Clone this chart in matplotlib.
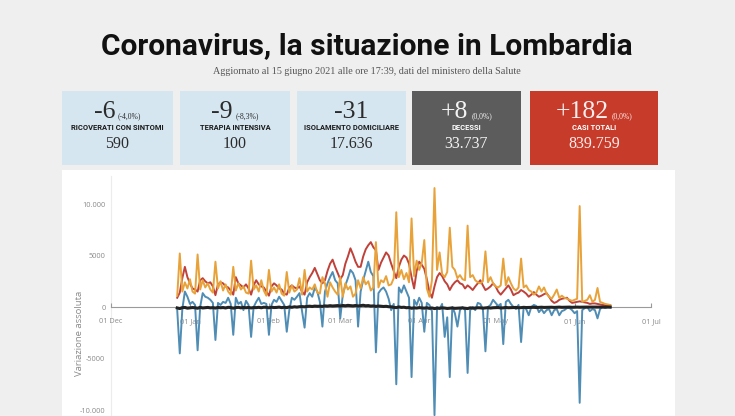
import numpy as np
import matplotlib
matplotlib.use("Agg")
from matplotlib import pyplot as plt
from matplotlib import patches

# daily series, 27 Dec 2020 -> 15 Jun 2021 (one row = one week, Sun..Sat)
start, end = '2020-12-27', '2021-06-16'

orange = [1100, 5200, 1500, 2400, 1800, 2700, 1500,
          1300, 5100, 1700, 2600, 1900, 2300, 1700,
          1400, 4400, 1800, 2500, 1600, 2200, 1500,
          1200, 3900, 1600, 2300, 1700, 2000, 1400,
          1300, 4500, 1700, 2100, 1500, 2600, 1600,
          1100, 3600, 1500, 1900, 1400, 2200, 1300,
          1100, 3400, 1400, 2100, 1500, 1700, 2800,
          1200, 3600, 1500, 1900, 1700, 2200, 1400,
          1300, 2900, 2300, 1000, 2400, 1900, 1500,
          1200, 2900, 1000, 2300, 1700, 2000, 1000,
          1300, 2600, 1800, 2900, 2200, 2500, 1600,
          1900, 6300, 1900, 2600, 2400, 3000, 2100,
          2200, 2800, 9200, 2900, 3600, 2700, 3300,
          2400, 8600, 3000, 4500, 3600, 4300, 6500,
          1800, 1000, 2600, 11550, 3600, 5300, 3200,
          2900, 3400, 7700, 3900, 3600, 2800, 3100,
          2700, 2600, 7900, 2900, 3100, 2600, 2400,
          2300, 2500, 5400, 2400, 2900, 2300, 2000,
          1900, 2100, 4700, 2100, 2900, 2300, 1800,
          1600, 1900, 4700, 1900, 2100, 1650, 1500,
          1200, 1400, 2000, 1500, 1900, 1300, 1000,
          800, 1200, 1700, 900, 1100, 900, 800,
          700, 600, 700, 800, 9800, 500, 600,
          700, 1150, 500, 700, 1850, 500, 400,
          300, 250, 200]

red = [900, 1400, 2800, 3900, 2900, 2300, 1800,
       1700, 1500, 2600, 2800, 2500, 2300, 2400,
       2000, 1150, 2200, 2400, 2300, 2000, 1900,
       1600, 1200, 2900, 2300, 2100, 1900, 2200,
       1800, 1200, 2100, 2600, 2200, 2000, 1900,
       1500, 1100, 2000, 2300, 2100, 1800, 1700,
       1300, 1200, 1900, 2100, 1900, 1800, 2000,
       1500, 1200, 2400, 2900, 3300, 3800, 3200,
       2600, 2300, 2600, 3500, 4200, 4600, 3900,
       3300, 2700, 3100, 4200, 4900, 5700, 5100,
       4400, 3900, 3900, 4900, 5600, 6000, 6300,
       5800, 5500, 3600, 4300, 4800, 5300, 5000,
       4200, 3500, 2800, 3900, 4600, 5000, 4800,
       4200, 2900, 1800, 3500, 4400, 4100, 3700,
       2700, 1500, 900, 2000, 2900, 3300, 3000,
       2500, 2200, 1650, 2100, 2400, 2600, 2300,
       2200, 1800, 2100, 1900, 1650, 2000, 2300,
       2600, 2100, 1650, 1800, 2000, 2300, 2000,
       1500, 1200, 1500, 1800, 2100, 1700, 1150,
       1300, 1400, 1650, 1500, 1300, 1000, 1200,
       1450, 1200, 1000, 1100, 1250, 1350, 1000,
       600, 400, 500, 700, 800, 850, 900,
       600, 400, 450, 500, 550, 500, 450,
       400, 300, 350, 350, 300, 250, 200,
       200, 150, 180]

blue = [-300, -4500, -200, 1500, 1000, 300, 500,
        200, -4200, 0, 1350, 1000, 900, 700,
        400, -3200, 400, 200, 500, 400, 900,
        300, -2700, 900, 300, 500, -300, 600,
        200, -2900, 0, 500, 900, 300, 400,
        300, -2700, 200, 700, 500, 1000, 600,
        200, -2400, -300, 900, 700, 1000, 1350,
        -400, -2000, 900, 1350, 1000, 1850, 1500,
        500, -1900, 1500, 2300, 2900, 3400, 2600,
        2300, -1100, 1200, 2100, 2800, 3600, 3300,
        2600, -1900, 1500, 2600, 3500, 4400, 3400,
        3000, -4400, 1350, 1700, 1900, 1500, 800,
        -300, 300, -7500, 1900, 1400, 2100, 1500,
        900, -6800, 700, 200, 900, 400, -2400,
        400, 200, -400, -10500, 0, -200, 300,
        -2900, -1000, -6800, 0, -600, -1900, -300,
        0, -300, -6400, -300, 0, -300, 400,
        300, -200, -4300, 0, 200, 700, 400,
        100, 300, -3600, 500, 700, 300, 0,
        -200, 200, -3400, 0, -200, -800, 0,
        200, 100, -500, -200, -600, -300, -200,
        -800, -300, -200, -800, -400, -300, -100,
        -100, -300, -600, -400, -9300, -300, -100,
        0, -400, -200, -300, -1100, -200, 0,
        -100, 0, -50]

black = [-90, -150, -60, -40, -110, -80, -50,
         -70, -120, -30, -90, -60, -40, -80,
         -60, -100, -40, -70, -50, -90, -30,
         -50, -110, -60, -30, -80, -40, -70,
         -40, -90, -50, -60, -30, -70, -20,
         -30, -80, -20, -50, -40, -10, -60,
         -20, -60, 10, -30, 20, -10, 30,
         40, 20, 60, 80, 50, 90, 70,
         80, 60, 110, 90, 130, 100, 120,
         140, 90, 150, 120, 160, 130, 110,
         150, 100, 130, 170, 120, 140, 90,
         110, 60, 100, 80, 50, 70, 30,
         20, -30, -60, 10, -40, -20, -70,
         -50, -120, -80, -100, -60, -90, -110,
         -70, -130, -90, -150, -110, -120, -80,
         -100, -140, -120, -90, -130, -110, -100,
         -90, -120, -150, -80, -110, -100, -70,
         -80, -110, -90, -60, -100, -70, -60,
         -50, -90, -80, -40, -70, -60, -50,
         -40, -70, -60, -30, -50, -40, -30,
         -30, -50, -40, -20, -40, -30, -20,
         -20, -40, -30, -10, -30, -20, -20,
         -10, -30, -20, -10, -20, -10, -10,
         -10, -20, -10, 0, -10, -10, 0,
         -5, -10, -5]

month_ticks = ['2020-12-01', '2021-01-01', '2021-02-01', '2021-03-01',
               '2021-04-01', '2021-05-01', '2021-06-01', '2021-07-01']
month_labels = ['01 Dec', '01 Jan', '01 Feb', '01 Mar', '01 Apr', '01 May', '01 Jun', '01 Jul']
y_ticks = [-10000, -5000, 0, 5000, 10000]
y_labels = ['-10.000', '-5000', '0', '5000', '10.000']

title = 'Coronavirus, la situazione in Lombardia'
subtitle = 'Aggiornato al 15 giugno 2021 alle ore 17:39, dati del ministero della Salute'

card_delta = ['-6', '-9', '-31', '+8', '+182']
card_pct = ['(-4,0%)', '(-8,3%)', '', '(0,0%)', '(0,0%)']
card_label = ['RICOVERATI CON SINTOMI', 'TERAPIA INTENSIVA', 'ISOLAMENTO DOMICILIARE',
              'DECESSI', 'CASI TOTALI']
card_total = ['590', '100', '17.636', '33.737', '839.759']

########################################################

W, H = 735, 416


def fx(px):
    return px / W


def fy(py):
    return 1 - py / H


SANS_N = ['Roboto', 'DejaVu Sans']
SERIF = ['Liberation Serif', 'DejaVu Serif']

fig = plt.figure(figsize=(W / 100, H / 100), dpi=100)
fig.patch.set_facecolor('#efefef')

fig.text(fx(367), fy(46), title, ha='center', va='center', fontsize=21.5,
         fontweight='bold', family=SANS_N, color='#111111')
fig.text(fx(367), fy(72), subtitle, ha='center', va='center', fontsize=7.3,
         family=SERIF, color='#555555')

# white panel behind the chart
fig.patches.append(patches.Rectangle((fx(62), 0), fx(675) - fx(62), fy(170),
                                     transform=fig.transFigure, facecolor='white',
                                     edgecolor='none', zorder=-2))
# faint vertical guide at the start of the time axis
fig.lines.append(plt.Line2D([fx(111), fx(111)], [0, fy(176)], transform=fig.transFigure,
                            color='#ececec', lw=0.8, zorder=-1))

# cards
lefts = [62, 180, 297, 412, 530]
rights = [173, 290, 406, 521, 658]
faces = ['#d5e6f0', '#d5e6f0', '#d5e6f0', '#5c5c5c', '#c73b2a']
inks = ['#2b2b2b', '#2b2b2b', '#2b2b2b', '#f4f4f4', '#fbeeee']
top, bot = 91, 165
renderer = fig.canvas.get_renderer()
for i in range(5):
    fig.patches.append(patches.Rectangle((fx(lefts[i]), fy(bot)), fx(rights[i]) - fx(lefts[i]),
                                         fy(top) - fy(bot), transform=fig.transFigure,
                                         facecolor=faces[i], edgecolor='none', zorder=-2))
    cx = (lefts[i] + rights[i]) / 2
    big = fig.text(0, fy(118), card_delta[i], ha='left', va='baseline', fontsize=18.5,
                   family=SERIF, color=inks[i])
    small = fig.text(0, fy(118), card_pct[i], ha='left', va='baseline', fontsize=5.5,
                     family=SERIF, color=inks[i])
    wb = big.get_window_extent(renderer).width
    ws = small.get_window_extent(renderer).width if card_pct[i] else 0
    gap = 3 if card_pct[i] else 0
    x0 = cx - (wb + gap + ws) / 2
    big.set_x(fx(x0))
    small.set_x(fx(x0 + wb + gap))
    fig.text(fx(cx), fy(128), card_label[i], ha='center', va='center', fontsize=5.4,
             fontweight='bold', family=SANS_N, color='#1a1a1a' if i < 3 else '#ffffff')
    fig.text(fx(cx), fy(144), card_total[i], ha='center', va='center', fontsize=11.5,
             family=SERIF, color=inks[i])

# chart
ax = fig.add_axes([fx(111), fy(416), fx(651) - fx(111), fy(183) - fy(416)])
ax.set_zorder(1)
ax.patch.set_alpha(0)
days = np.arange(start, end, dtype='datetime64[D]')

ax.plot(days, blue, color='#4f8db5', lw=1.4, zorder=3)
ax.plot(days, red, color='#c0413a', lw=1.4, zorder=4)
ax.plot(days, orange, color='#e8a23a', lw=1.4, zorder=5)
ax.plot(days, black, color='#222222', lw=2.2, zorder=6)

ax.set_xlim(np.datetime64(month_ticks[0]), np.datetime64(month_ticks[-1]))
ax.set_ylim(-10580, 12040)

for s in ['top', 'right', 'left']:
    ax.spines[s].set_visible(False)
ax.spines['bottom'].set_position(('data', 0))
ax.spines['bottom'].set_color('#9a9a9a')
ax.spines['bottom'].set_linewidth(0.8)

ax.set_xticks([np.datetime64(m) for m in month_ticks])
ax.set_xticklabels(month_labels)
ax.tick_params(axis='x', direction='in', length=3, color='#9a9a9a', pad=8,
               labelsize=5.3, labelcolor='#8a8a8a')
ax.set_yticks(y_ticks)
ax.set_yticklabels(y_labels)
ax.tick_params(axis='y', length=0, pad=4, labelsize=5.3, labelcolor='#8a8a8a')
for lbl in ax.get_xticklabels() + ax.get_yticklabels():
    lbl.set_family(['Open Sans', 'DejaVu Sans'])

fig.text(fx(80), fy(333), 'Variazione assoluta', rotation=90, ha='center', va='center',
         fontsize=6.8, color='#8a8a8a', family=['Open Sans', 'DejaVu Sans'])

plt.savefig('out.png', dpi=100, facecolor=fig.get_facecolor())
